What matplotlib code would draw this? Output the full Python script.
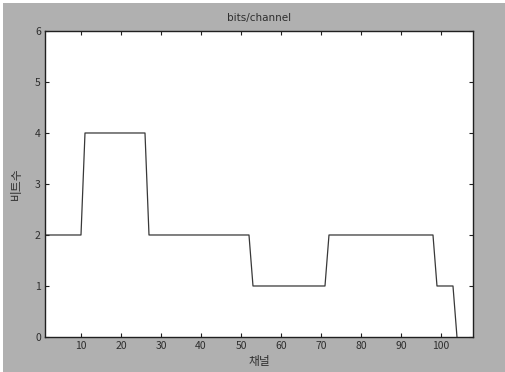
import matplotlib
matplotlib.use("Agg")
import matplotlib.pyplot as plt

plt.rcParams['font.family'] = ['Noto Sans CJK KR', 'DejaVu Sans']

# Bit allocation per channel (breakpoints of the step profile)
channels = [1, 10, 11, 26, 27, 52, 53, 71, 72, 98, 99, 103, 104]
bits = [2, 2, 4, 4, 2, 2, 1, 1, 2, 2, 1, 1, 0]

x_ticks = [10, 20, 30, 40, 50, 60, 70, 80, 90, 100]
y_ticks = [0, 1, 2, 3, 4, 5, 6]

title = "bits/channel"
x_label = "채널"
y_label = "비트수"

bg = "#b0b0b0"
txt = "#2e2e2e"

fig = plt.figure(figsize=(5.05, 3.72), dpi=100, facecolor="white")
# gray figure panel inside a thin white margin
fig.patches.append(plt.Rectangle((0.005, 0.0), 0.995, 0.993, transform=fig.transFigure,
                                 facecolor=bg, edgecolor="none", zorder=-10))

ax = fig.add_axes([0.0891, 0.0941, 0.8475, 0.8226])
ax.set_facecolor("white")
ax.plot(channels, bits, color="#383838", linewidth=0.9)

ax.set_xlim(1, 108)
ax.set_ylim(0, 6)
ax.set_xticks(x_ticks)
ax.set_yticks(y_ticks)
ax.tick_params(direction="in", length=3, width=0.8, top=True, right=True,
               labelsize=7.5, colors="#202020", pad=3)
for lbl in ax.get_xticklabels() + ax.get_yticklabels():
    lbl.set_color(txt)
for s in ax.spines.values():
    s.set_color("#202020")
    s.set_linewidth(1.0)

ax.set_title(title, fontsize=7.5, color=txt, pad=7, family="DejaVu Sans")
ax.set_xlabel(x_label, fontsize=8.5, color=txt, labelpad=3)
ax.set_ylabel(y_label, fontsize=8.5, color=txt, labelpad=9)

fig.savefig("out.png", dpi=100, facecolor="white")
